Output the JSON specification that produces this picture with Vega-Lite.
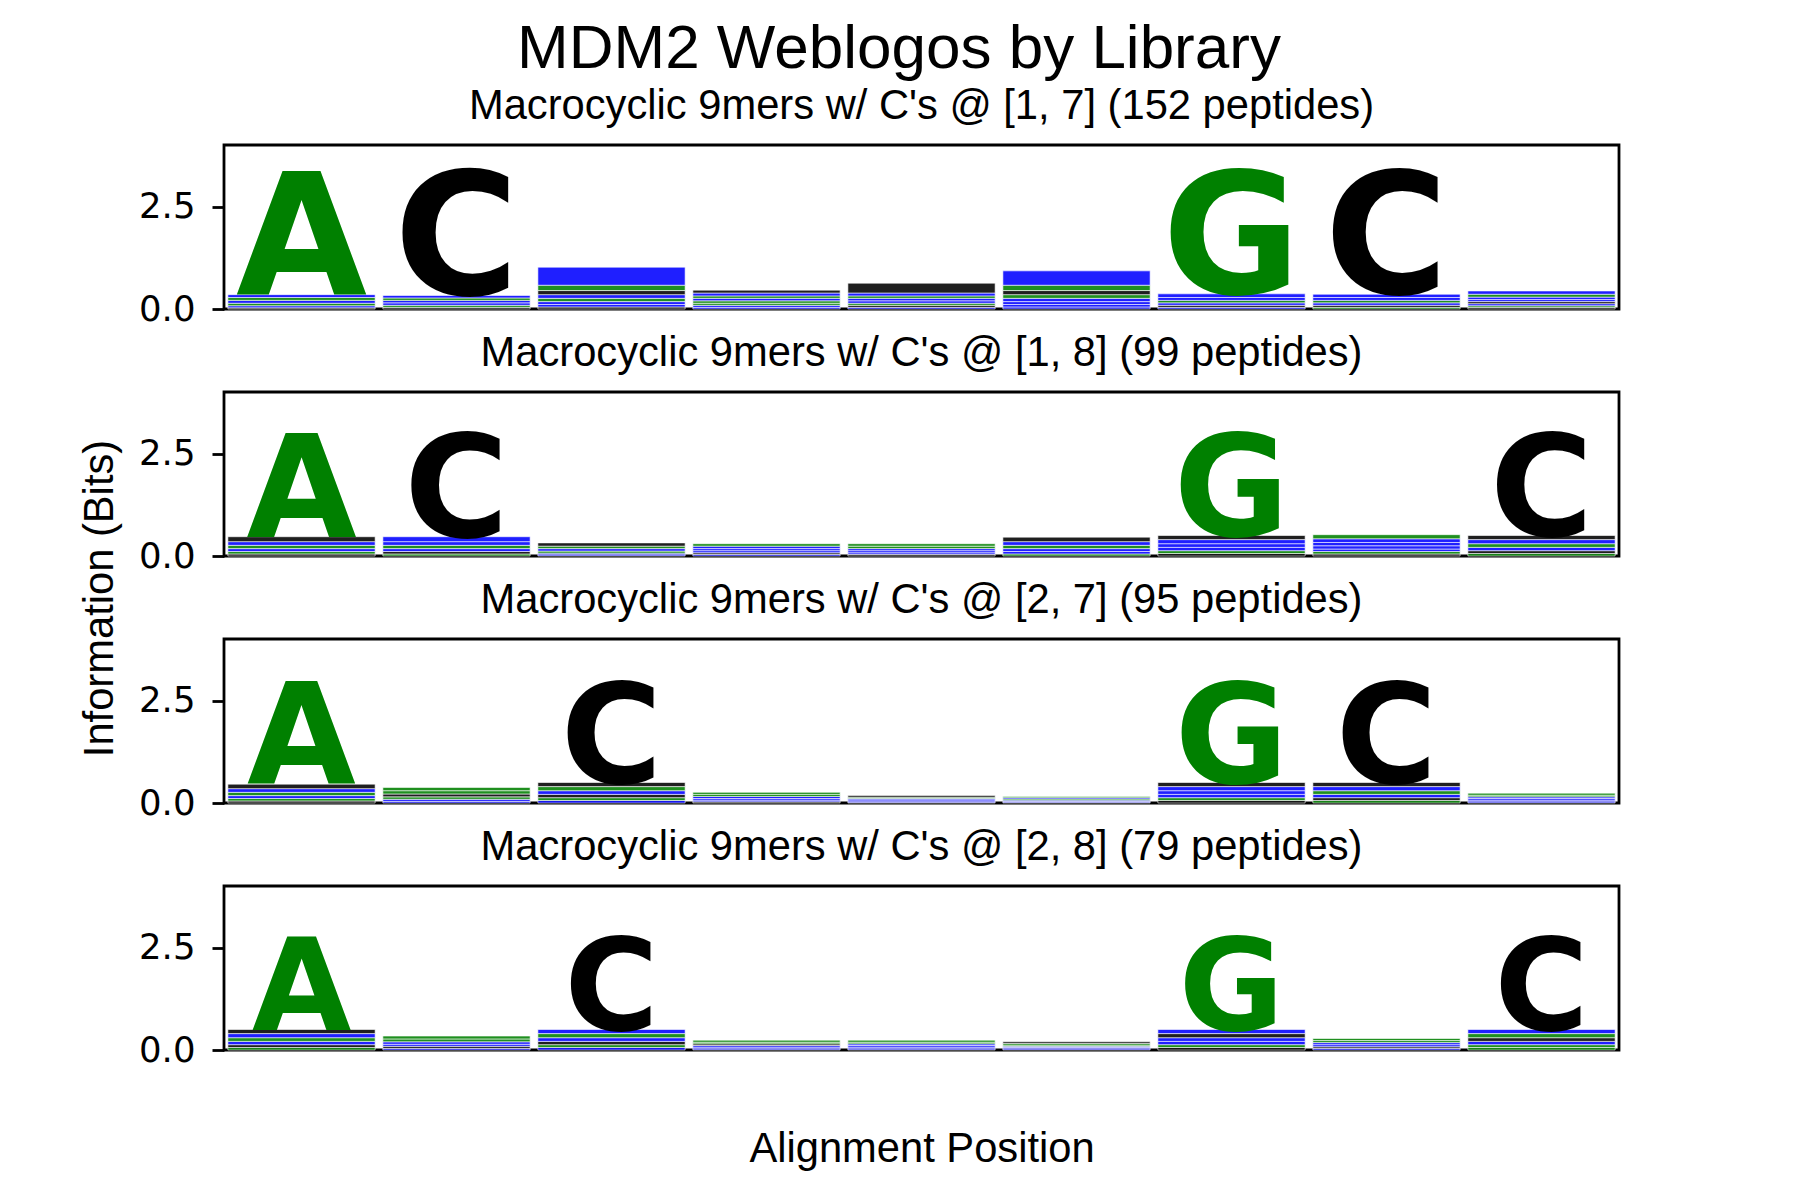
{
"$schema": "https://vega.github.io/schema/vega-lite/v6.json",
"padding": {"left": 77, "top": 17, "right": 5, "bottom": 5},
"background": "white",
"title": {"text": "MDM2 Weblogos by Library", "fontSize": 62, "font": "Liberation Sans", "fontWeight": "normal", "color": "black", "anchor": "middle", "offset": 4, "dx": 50},
"bounds": "flush",
"spacing": 83,
"config": {
 "view": {"stroke": "black", "strokeWidth": 2.8},
 "axis": {"labelFont": "DejaVu Sans", "labelFontSize": 35.5, "labelColor": "black", "tickColor": "black", "tickSize": 12, "tickWidth": 2.8, "labelPadding": 17, "domain": false, "grid": false, "titleFont": "Liberation Sans", "titleFontSize": 41.7, "titleFontWeight": "normal", "titleColor": "black"},
 "title": {"font": "Liberation Sans", "fontSize": 41.7, "fontWeight": "normal", "color": "black", "offset": 17}
},
"data": {"values": [
{"p":1,"x":1,"a":"W","b":0.03,"r":1},{"p":1,"x":1,"a":"N","b":0.05,"r":2},{"p":1,"x":1,"a":"S","b":0.06,"r":3},{"p":1,"x":1,"a":"K","b":0.07,"r":4},{"p":1,"x":1,"a":"T","b":0.07,"r":5},{"p":1,"x":1,"a":"R","b":0.07,"r":6},{"p":1,"x":1,"a":"A","b":3.01,"r":7},
{"p":1,"x":2,"a":"F","b":0.04,"r":1},{"p":1,"x":2,"a":"P","b":0.05,"r":2},{"p":1,"x":2,"a":"E","b":0.06,"r":3},{"p":1,"x":2,"a":"D","b":0.06,"r":4},{"p":1,"x":2,"a":"G","b":0.06,"r":5},{"p":1,"x":2,"a":"R","b":0.06,"r":6},{"p":1,"x":2,"a":"C","b":3.03,"r":7},
{"p":1,"x":3,"a":"I","b":0.05,"r":1},{"p":1,"x":3,"a":"N","b":0.06,"r":2},{"p":1,"x":3,"a":"E","b":0.07,"r":3},{"p":1,"x":3,"a":"S","b":0.08,"r":4},{"p":1,"x":3,"a":"D","b":0.09,"r":5},{"p":1,"x":3,"a":"L","b":0.10,"r":6},{"p":1,"x":3,"a":"G","b":0.13,"r":7},{"p":1,"x":3,"a":"R","b":0.44,"r":8},
{"p":1,"x":4,"a":"E","b":0.04,"r":1},{"p":1,"x":4,"a":"K","b":0.05,"r":2},{"p":1,"x":4,"a":"S","b":0.05,"r":3},{"p":1,"x":4,"a":"T","b":0.06,"r":4},{"p":1,"x":4,"a":"D","b":0.06,"r":5},{"p":1,"x":4,"a":"G","b":0.06,"r":6},{"p":1,"x":4,"a":"N","b":0.07,"r":7},{"p":1,"x":4,"a":"L","b":0.07,"r":8},
{"p":1,"x":5,"a":"R","b":0.04,"r":1},{"p":1,"x":5,"a":"L","b":0.05,"r":2},{"p":1,"x":5,"a":"T","b":0.05,"r":3},{"p":1,"x":5,"a":"D","b":0.06,"r":4},{"p":1,"x":5,"a":"K","b":0.06,"r":5},{"p":1,"x":5,"a":"S","b":0.06,"r":6},{"p":1,"x":5,"a":"E","b":0.07,"r":7},{"p":1,"x":5,"a":"Y","b":0.24,"r":8},
{"p":1,"x":6,"a":"K","b":0.05,"r":1},{"p":1,"x":6,"a":"N","b":0.06,"r":2},{"p":1,"x":6,"a":"E","b":0.07,"r":3},{"p":1,"x":6,"a":"Q","b":0.08,"r":4},{"p":1,"x":6,"a":"T","b":0.09,"r":5},{"p":1,"x":6,"a":"F","b":0.10,"r":6},{"p":1,"x":6,"a":"G","b":0.13,"r":7},{"p":1,"x":6,"a":"D","b":0.35,"r":8},
{"p":1,"x":7,"a":"N","b":0.04,"r":1},{"p":1,"x":7,"a":"Y","b":0.05,"r":2},{"p":1,"x":7,"a":"K","b":0.06,"r":3},{"p":1,"x":7,"a":"S","b":0.06,"r":4},{"p":1,"x":7,"a":"D","b":0.07,"r":5},{"p":1,"x":7,"a":"E","b":0.09,"r":6},{"p":1,"x":7,"a":"G","b":3.0,"r":7},
{"p":1,"x":8,"a":"P","b":0.04,"r":1},{"p":1,"x":8,"a":"L","b":0.05,"r":2},{"p":1,"x":8,"a":"R","b":0.06,"r":3},{"p":1,"x":8,"a":"G","b":0.06,"r":4},{"p":1,"x":8,"a":"D","b":0.07,"r":5},{"p":1,"x":8,"a":"N","b":0.08,"r":6},{"p":1,"x":8,"a":"C","b":3.0,"r":7},
{"p":1,"x":9,"a":"W","b":0.04,"r":1},{"p":1,"x":9,"a":"T","b":0.04,"r":2},{"p":1,"x":9,"a":"N","b":0.05,"r":3},{"p":1,"x":9,"a":"L","b":0.05,"r":4},{"p":1,"x":9,"a":"D","b":0.05,"r":5},{"p":1,"x":9,"a":"K","b":0.06,"r":6},{"p":1,"x":9,"a":"S","b":0.07,"r":7},{"p":1,"x":9,"a":"R","b":0.08,"r":8},
{"p":2,"x":1,"a":"L","b":0.05,"r":1},{"p":2,"x":1,"a":"G","b":0.06,"r":2},{"p":2,"x":1,"a":"E","b":0.07,"r":3},{"p":2,"x":1,"a":"S","b":0.08,"r":4},{"p":2,"x":1,"a":"N","b":0.09,"r":5},{"p":2,"x":1,"a":"Y","b":0.12,"r":6},{"p":2,"x":1,"a":"A","b":2.53,"r":7},
{"p":2,"x":2,"a":"P","b":0.05,"r":1},{"p":2,"x":2,"a":"I","b":0.06,"r":2},{"p":2,"x":2,"a":"K","b":0.07,"r":3},{"p":2,"x":2,"a":"T","b":0.08,"r":4},{"p":2,"x":2,"a":"D","b":0.09,"r":5},{"p":2,"x":2,"a":"Q","b":0.12,"r":6},{"p":2,"x":2,"a":"C","b":2.53,"r":7},
{"p":2,"x":3,"a":"E","b":0.03,"r":1},{"p":2,"x":3,"a":"R","b":0.04,"r":2},{"p":2,"x":3,"a":"S","b":0.05,"r":3},{"p":2,"x":3,"a":"N","b":0.06,"r":4},{"p":2,"x":3,"a":"G","b":0.06,"r":5},{"p":2,"x":3,"a":"L","b":0.08,"r":6},
{"p":2,"x":4,"a":"K","b":0.04,"r":1},{"p":2,"x":4,"a":"F","b":0.04,"r":2},{"p":2,"x":4,"a":"D","b":0.05,"r":3},{"p":2,"x":4,"a":"R","b":0.05,"r":4},{"p":2,"x":4,"a":"N","b":0.06,"r":5},{"p":2,"x":4,"a":"G","b":0.06,"r":6},
{"p":2,"x":5,"a":"L","b":0.04,"r":1},{"p":2,"x":5,"a":"N","b":0.04,"r":2},{"p":2,"x":5,"a":"E","b":0.05,"r":3},{"p":2,"x":5,"a":"Q","b":0.05,"r":4},{"p":2,"x":5,"a":"S","b":0.06,"r":5},{"p":2,"x":5,"a":"T","b":0.06,"r":6},
{"p":2,"x":6,"a":"S","b":0.05,"r":1},{"p":2,"x":6,"a":"K","b":0.06,"r":2},{"p":2,"x":6,"a":"N","b":0.07,"r":3},{"p":2,"x":6,"a":"G","b":0.08,"r":4},{"p":2,"x":6,"a":"D","b":0.09,"r":5},{"p":2,"x":6,"a":"Y","b":0.11,"r":6},
{"p":2,"x":7,"a":"L","b":0.06,"r":1},{"p":2,"x":7,"a":"T","b":0.07,"r":2},{"p":2,"x":7,"a":"E","b":0.08,"r":3},{"p":2,"x":7,"a":"N","b":0.09,"r":4},{"p":2,"x":7,"a":"R","b":0.10,"r":5},{"p":2,"x":7,"a":"V","b":0.10,"r":6},{"p":2,"x":7,"a":"G","b":2.5,"r":7},
{"p":2,"x":8,"a":"F","b":0.05,"r":1},{"p":2,"x":8,"a":"G","b":0.06,"r":2},{"p":2,"x":8,"a":"D","b":0.06,"r":3},{"p":2,"x":8,"a":"N","b":0.08,"r":4},{"p":2,"x":8,"a":"E","b":0.08,"r":5},{"p":2,"x":8,"a":"R","b":0.09,"r":6},{"p":2,"x":8,"a":"S","b":0.10,"r":7},
{"p":2,"x":9,"a":"T","b":0.06,"r":1},{"p":2,"x":9,"a":"I","b":0.07,"r":2},{"p":2,"x":9,"a":"N","b":0.08,"r":3},{"p":2,"x":9,"a":"S","b":0.09,"r":4},{"p":2,"x":9,"a":"E","b":0.10,"r":5},{"p":2,"x":9,"a":"L","b":0.10,"r":6},{"p":2,"x":9,"a":"C","b":2.5,"r":7},
{"p":3,"x":1,"a":"Y","b":0.05,"r":1},{"p":3,"x":1,"a":"S","b":0.06,"r":2},{"p":3,"x":1,"a":"E","b":0.07,"r":3},{"p":3,"x":1,"a":"G","b":0.08,"r":4},{"p":3,"x":1,"a":"N","b":0.09,"r":5},{"p":3,"x":1,"a":"L","b":0.11,"r":6},{"p":3,"x":1,"a":"A","b":2.5,"r":7},
{"p":3,"x":2,"a":"N","b":0.04,"r":1},{"p":3,"x":2,"a":"R","b":0.05,"r":2},{"p":3,"x":2,"a":"S","b":0.06,"r":3},{"p":3,"x":2,"a":"L","b":0.07,"r":4},{"p":3,"x":2,"a":"G","b":0.08,"r":5},{"p":3,"x":2,"a":"T","b":0.08,"r":6},
{"p":3,"x":3,"a":"E","b":0.06,"r":1},{"p":3,"x":3,"a":"T","b":0.07,"r":2},{"p":3,"x":3,"a":"L","b":0.08,"r":3},{"p":3,"x":3,"a":"R","b":0.09,"r":4},{"p":3,"x":3,"a":"G","b":0.10,"r":5},{"p":3,"x":3,"a":"V","b":0.10,"r":6},{"p":3,"x":3,"a":"C","b":2.46,"r":7},
{"p":3,"x":4,"a":"L","b":0.03,"r":1},{"p":3,"x":4,"a":"D","b":0.04,"r":2},{"p":3,"x":4,"a":"K","b":0.04,"r":3},{"p":3,"x":4,"a":"N","b":0.05,"r":4},{"p":3,"x":4,"a":"S","b":0.05,"r":5},{"p":3,"x":4,"a":"G","b":0.05,"r":6},
{"p":3,"x":5,"a":"R","b":0.02,"r":1},{"p":3,"x":5,"a":"K","b":0.03,"r":2},{"p":3,"x":5,"a":"N","b":0.03,"r":3},{"p":3,"x":5,"a":"E","b":0.03,"r":4},{"p":3,"x":5,"a":"T","b":0.03,"r":5},{"p":3,"x":5,"a":"L","b":0.04,"r":6},
{"p":3,"x":6,"a":"K","b":0.02,"r":1},{"p":3,"x":6,"a":"N","b":0.02,"r":2},{"p":3,"x":6,"a":"Q","b":0.03,"r":3},{"p":3,"x":6,"a":"S","b":0.03,"r":4},{"p":3,"x":6,"a":"D","b":0.03,"r":5},{"p":3,"x":6,"a":"G","b":0.03,"r":6},
{"p":3,"x":7,"a":"F","b":0.06,"r":1},{"p":3,"x":7,"a":"S","b":0.07,"r":2},{"p":3,"x":7,"a":"E","b":0.08,"r":3},{"p":3,"x":7,"a":"R","b":0.09,"r":4},{"p":3,"x":7,"a":"N","b":0.10,"r":5},{"p":3,"x":7,"a":"Y","b":0.10,"r":6},{"p":3,"x":7,"a":"G","b":2.46,"r":7},
{"p":3,"x":8,"a":"T","b":0.06,"r":1},{"p":3,"x":8,"a":"L","b":0.07,"r":2},{"p":3,"x":8,"a":"D","b":0.08,"r":3},{"p":3,"x":8,"a":"S","b":0.09,"r":4},{"p":3,"x":8,"a":"E","b":0.10,"r":5},{"p":3,"x":8,"a":"I","b":0.10,"r":6},{"p":3,"x":8,"a":"C","b":2.46,"r":7},
{"p":3,"x":9,"a":"D","b":0.03,"r":1},{"p":3,"x":9,"a":"K","b":0.04,"r":2},{"p":3,"x":9,"a":"R","b":0.04,"r":3},{"p":3,"x":9,"a":"N","b":0.04,"r":4},{"p":3,"x":9,"a":"S","b":0.04,"r":5},{"p":3,"x":9,"a":"G","b":0.05,"r":6},
{"p":4,"x":1,"a":"S","b":0.06,"r":1},{"p":4,"x":1,"a":"L","b":0.07,"r":2},{"p":4,"x":1,"a":"E","b":0.08,"r":3},{"p":4,"x":1,"a":"G","b":0.09,"r":4},{"p":4,"x":1,"a":"N","b":0.10,"r":5},{"p":4,"x":1,"a":"V","b":0.10,"r":6},{"p":4,"x":1,"a":"A","b":2.28,"r":7},
{"p":4,"x":2,"a":"R","b":0.04,"r":1},{"p":4,"x":2,"a":"Y","b":0.05,"r":2},{"p":4,"x":2,"a":"K","b":0.05,"r":3},{"p":4,"x":2,"a":"N","b":0.06,"r":4},{"p":4,"x":2,"a":"S","b":0.07,"r":5},{"p":4,"x":2,"a":"G","b":0.07,"r":6},
{"p":4,"x":3,"a":"E","b":0.06,"r":1},{"p":4,"x":3,"a":"T","b":0.07,"r":2},{"p":4,"x":3,"a":"L","b":0.08,"r":3},{"p":4,"x":3,"a":"N","b":0.09,"r":4},{"p":4,"x":3,"a":"G","b":0.10,"r":5},{"p":4,"x":3,"a":"R","b":0.10,"r":6},{"p":4,"x":3,"a":"C","b":2.28,"r":7},
{"p":4,"x":4,"a":"D","b":0.03,"r":1},{"p":4,"x":4,"a":"N","b":0.04,"r":2},{"p":4,"x":4,"a":"K","b":0.04,"r":3},{"p":4,"x":4,"a":"L","b":0.04,"r":4},{"p":4,"x":4,"a":"S","b":0.04,"r":5},{"p":4,"x":4,"a":"G","b":0.05,"r":6},
{"p":4,"x":5,"a":"R","b":0.03,"r":1},{"p":4,"x":5,"a":"E","b":0.04,"r":2},{"p":4,"x":5,"a":"N","b":0.04,"r":3},{"p":4,"x":5,"a":"Q","b":0.04,"r":4},{"p":4,"x":5,"a":"T","b":0.04,"r":5},{"p":4,"x":5,"a":"S","b":0.05,"r":6},
{"p":4,"x":6,"a":"N","b":0.03,"r":1},{"p":4,"x":6,"a":"D","b":0.03,"r":2},{"p":4,"x":6,"a":"K","b":0.03,"r":3},{"p":4,"x":6,"a":"G","b":0.03,"r":4},{"p":4,"x":6,"a":"T","b":0.04,"r":5},{"p":4,"x":6,"a":"L","b":0.04,"r":6},
{"p":4,"x":7,"a":"I","b":0.06,"r":1},{"p":4,"x":7,"a":"S","b":0.07,"r":2},{"p":4,"x":7,"a":"E","b":0.08,"r":3},{"p":4,"x":7,"a":"N","b":0.09,"r":4},{"p":4,"x":7,"a":"L","b":0.10,"r":5},{"p":4,"x":7,"a":"K","b":0.10,"r":6},{"p":4,"x":7,"a":"G","b":2.28,"r":7},
{"p":4,"x":8,"a":"R","b":0.04,"r":1},{"p":4,"x":8,"a":"L","b":0.04,"r":2},{"p":4,"x":8,"a":"K","b":0.05,"r":3},{"p":4,"x":8,"a":"N","b":0.05,"r":4},{"p":4,"x":8,"a":"S","b":0.05,"r":5},{"p":4,"x":8,"a":"G","b":0.05,"r":6},
{"p":4,"x":9,"a":"S","b":0.06,"r":1},{"p":4,"x":9,"a":"T","b":0.07,"r":2},{"p":4,"x":9,"a":"D","b":0.08,"r":3},{"p":4,"x":9,"a":"L","b":0.09,"r":4},{"p":4,"x":9,"a":"G","b":0.10,"r":5},{"p":4,"x":9,"a":"R","b":0.10,"r":6},{"p":4,"x":9,"a":"C","b":2.28,"r":7}
]},
"vconcat": [
{
 "width": 1395, "height": 164,
 "title": {"text": "Macrocyclic 9mers w/ C's @ [1, 7] (152 peptides)"},
 "transform": [{"filter": "datum.p == 1"}, {"stack": "b", "groupby": ["x"], "sort": [{"field": "r", "order": "ascending"}], "as": ["b0", "b1"]}],
 "encoding": {
  "x": {"field": "x", "type": "ordinal", "scale": {"domain": [1,2,3,4,5,6,7,8,9], "paddingInner": 0.05, "paddingOuter": 0.025}, "axis": null},
  "color": {"field": "a", "type": "nominal", "legend": null, "scale": {"domain": ["R","K","D","E","N","Q","S","G","H","T","A","P","Y","V","M","C","L","F","I","W"], "range": ["#0000ff","#0000ff","#0000ff","#0000ff","#0000ff","#0000ff","#008000","#008000","#008000","#008000","#008000","#008000","#000000","#000000","#000000","#000000","#000000","#000000","#000000","#000000"]}}
 },
 "layer": [
  {"transform": [{"filter": "datum.b < 1"}], "mark": {"type": "bar", "fillOpacity": 0.88, "stroke": "white", "strokeWidth": 0.6}, "encoding": {"y": {"field": "b0", "type": "quantitative", "scale": {"domain": [0, 4], "nice": false}, "axis": {"values": [0, 2.5], "format": ".1f", "title": null}}, "y2": {"field": "b1"}}},
  {"transform": [{"filter": "datum.b >= 1"}], "mark": {"type": "text", "font": "DejaVu Sans", "fontWeight": "bold", "baseline": "alphabetic", "align": "center"}, "encoding": {"y": {"field": "b0", "type": "quantitative"}, "text": {"field": "a"}, "size": {"field": "b", "type": "quantitative", "legend": null, "scale": {"domain": [0, 4], "range": [0, 225], "zero": true}}}}
 ]
},
{
 "width": 1395, "height": 164,
 "title": {"text": "Macrocyclic 9mers w/ C's @ [1, 8] (99 peptides)"},
 "transform": [{"filter": "datum.p == 2"}, {"stack": "b", "groupby": ["x"], "sort": [{"field": "r", "order": "ascending"}], "as": ["b0", "b1"]}],
 "encoding": {
  "x": {"field": "x", "type": "ordinal", "scale": {"domain": [1,2,3,4,5,6,7,8,9], "paddingInner": 0.05, "paddingOuter": 0.025}, "axis": null},
  "color": {"field": "a", "type": "nominal", "legend": null, "scale": {"domain": ["R","K","D","E","N","Q","S","G","H","T","A","P","Y","V","M","C","L","F","I","W"], "range": ["#0000ff","#0000ff","#0000ff","#0000ff","#0000ff","#0000ff","#008000","#008000","#008000","#008000","#008000","#008000","#000000","#000000","#000000","#000000","#000000","#000000","#000000","#000000"]}}
 },
 "layer": [
  {"transform": [{"filter": "datum.b < 1"}], "mark": {"type": "bar", "fillOpacity": 0.88, "stroke": "white", "strokeWidth": 0.6}, "encoding": {"y": {"field": "b0", "type": "quantitative", "scale": {"domain": [0, 4], "nice": false}, "axis": {"values": [0, 2.5], "format": ".1f", "title": "Information (Bits)", "titleX": -125, "titleY": 206, "titleAlign": "center", "titleBaseline": "middle", "titleAngle": -90}}, "y2": {"field": "b1"}}},
  {"transform": [{"filter": "datum.b >= 1"}], "mark": {"type": "text", "font": "DejaVu Sans", "fontWeight": "bold", "baseline": "alphabetic", "align": "center"}, "encoding": {"y": {"field": "b0", "type": "quantitative"}, "text": {"field": "a"}, "size": {"field": "b", "type": "quantitative", "legend": null, "scale": {"domain": [0, 4], "range": [0, 225], "zero": true}}}}
 ]
},
{
 "width": 1395, "height": 164,
 "title": {"text": "Macrocyclic 9mers w/ C's @ [2, 7] (95 peptides)"},
 "transform": [{"filter": "datum.p == 3"}, {"stack": "b", "groupby": ["x"], "sort": [{"field": "r", "order": "ascending"}], "as": ["b0", "b1"]}],
 "encoding": {
  "x": {"field": "x", "type": "ordinal", "scale": {"domain": [1,2,3,4,5,6,7,8,9], "paddingInner": 0.05, "paddingOuter": 0.025}, "axis": null},
  "color": {"field": "a", "type": "nominal", "legend": null, "scale": {"domain": ["R","K","D","E","N","Q","S","G","H","T","A","P","Y","V","M","C","L","F","I","W"], "range": ["#0000ff","#0000ff","#0000ff","#0000ff","#0000ff","#0000ff","#008000","#008000","#008000","#008000","#008000","#008000","#000000","#000000","#000000","#000000","#000000","#000000","#000000","#000000"]}}
 },
 "layer": [
  {"transform": [{"filter": "datum.b < 1"}], "mark": {"type": "bar", "fillOpacity": 0.88, "stroke": "white", "strokeWidth": 0.6}, "encoding": {"y": {"field": "b0", "type": "quantitative", "scale": {"domain": [0, 4], "nice": false}, "axis": {"values": [0, 2.5], "format": ".1f", "title": null}}, "y2": {"field": "b1"}}},
  {"transform": [{"filter": "datum.b >= 1"}], "mark": {"type": "text", "font": "DejaVu Sans", "fontWeight": "bold", "baseline": "alphabetic", "align": "center"}, "encoding": {"y": {"field": "b0", "type": "quantitative"}, "text": {"field": "a"}, "size": {"field": "b", "type": "quantitative", "legend": null, "scale": {"domain": [0, 4], "range": [0, 225], "zero": true}}}}
 ]
},
{
 "width": 1395, "height": 164,
 "title": {"text": "Macrocyclic 9mers w/ C's @ [2, 8] (79 peptides)"},
 "transform": [{"filter": "datum.p == 4"}, {"stack": "b", "groupby": ["x"], "sort": [{"field": "r", "order": "ascending"}], "as": ["b0", "b1"]}],
 "encoding": {
  "x": {"field": "x", "type": "ordinal", "scale": {"domain": [1,2,3,4,5,6,7,8,9], "paddingInner": 0.05, "paddingOuter": 0.025}, "axis": {"title": "Alignment Position", "labels": false, "ticks": false, "domain": false, "titlePadding": 78}},
  "color": {"field": "a", "type": "nominal", "legend": null, "scale": {"domain": ["R","K","D","E","N","Q","S","G","H","T","A","P","Y","V","M","C","L","F","I","W"], "range": ["#0000ff","#0000ff","#0000ff","#0000ff","#0000ff","#0000ff","#008000","#008000","#008000","#008000","#008000","#008000","#000000","#000000","#000000","#000000","#000000","#000000","#000000","#000000"]}}
 },
 "layer": [
  {"transform": [{"filter": "datum.b < 1"}], "mark": {"type": "bar", "fillOpacity": 0.88, "stroke": "white", "strokeWidth": 0.6}, "encoding": {"y": {"field": "b0", "type": "quantitative", "scale": {"domain": [0, 4], "nice": false}, "axis": {"values": [0, 2.5], "format": ".1f", "title": null}}, "y2": {"field": "b1"}}},
  {"transform": [{"filter": "datum.b >= 1"}], "mark": {"type": "text", "font": "DejaVu Sans", "fontWeight": "bold", "baseline": "alphabetic", "align": "center"}, "encoding": {"y": {"field": "b0", "type": "quantitative"}, "text": {"field": "a"}, "size": {"field": "b", "type": "quantitative", "legend": null, "scale": {"domain": [0, 4], "range": [0, 225], "zero": true}}}}
 ]
}
]
}
